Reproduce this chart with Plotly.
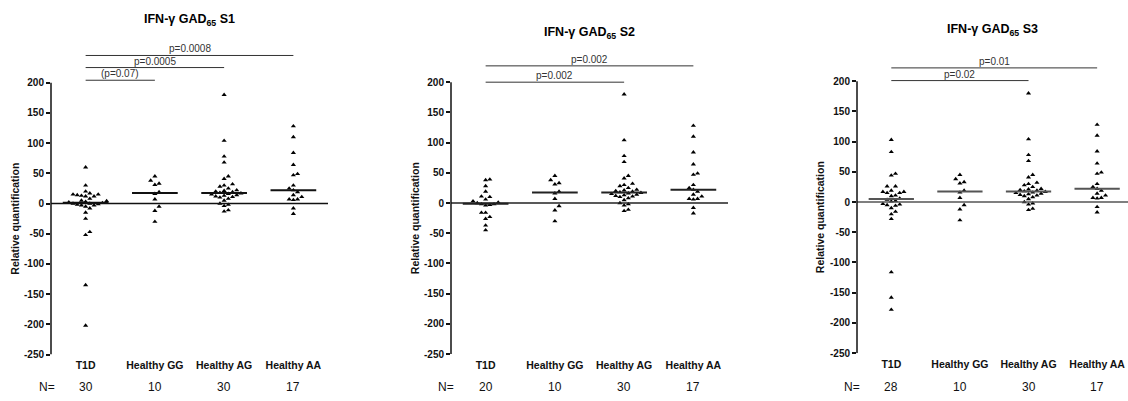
import numpy as np
import plotly.graph_objects as go

W, H = 1128, 401

groups = ["T1D", "Healthy GG", "Healthy AG", "Healthy AA"]
titles = ["IFN-γ GAD<sub>65</sub> S1", "IFN-γ GAD<sub>65</sub> S2", "IFN-γ GAD<sub>65</sub> S3"]

t1d_s1 = [60, 30, 20, 17, 15, 15, 14, 13, 12, 12, 8, 5, 4, 3, 2, 1, 0, 0, -1, -2,
          -3, -3, -5, -8, -15, -25, -47, -52, -135, -202]
t1d_s2 = [39, 38, 28, 19, 11, 10, 6, 3, 1, 0, -2, -2, -3, -4, -16, -16, -23, -26, -37, -45]
t1d_s3 = [103, 83, 47, 44, 26, 26, 19, 17, 17, 15, 15, 11, 10, 6, 4, 2, 1, -3, -4, -5,
          -6, -10, -16, -20, -28, -116, -158, -178]
healthy_gg = [45, 38, 33, 31, 19, 16, 7, -5, -12, -30]
healthy_ag = [180, 104, 78, 68, 45, 41, 32, 30, 28, 25, 22, 21, 20, 19, 18, 17, 16, 15,
              14, 13, 12, 11, 10, 8, 5, 0, -2, -4, -11, -13]
healthy_aa = [128, 110, 84, 64, 49, 47, 30, 25, 22, 19, 14, 11, 7, 7, 6, -8, -17]

# comparisons: (label, target group index)
pvals_s1 = [("(p=0.07)", 1), ("p=0.0005", 2), ("p=0.0008", 3)]
pvals_s2 = [("p=0.002", 2), ("p=0.002", 3)]
pvals_s3 = [("p=0.02", 2), ("p=0.01", 3)]

yticks = [-250, -200, -150, -100, -50, 0, 50, 100, 150, 200]

panels_data = [
    [t1d_s1, healthy_gg, healthy_ag, healthy_aa],
    [t1d_s2, healthy_gg, healthy_ag, healthy_aa],
    [t1d_s3, healthy_gg, healthy_ag, healthy_aa],
]
panels_p = [pvals_s1, pvals_s2, pvals_s3]

# ---------------- layout geometry (pixels) ----------------
geo = [
    dict(x0=51, x1=328, xr=(-0.5, 3.5), ybot=360, title_y=20, bracket_y=[204, 225, 245],
         ytitle_x=15, nx=47, line_col="#111111"),
    dict(x0=451, x1=728, xr=(-0.5, 3.5), ybot=359.5, title_y=33, bracket_y=[200, 227],
         ytitle_x=415, nx=446, line_col="#222222"),
    dict(x0=857, x1=1128, xr=(-0.5, 3.45), ybot=358.5, title_y=30, bracket_y=[201, 222],
         ytitle_x=820, nx=852, line_col="#555555"),
]
YR = (-250, 300)
PXU = 0.6135  # pixels per y unit

FONT = "Liberation Sans, Arial, sans-serif"


def px_x(p):
    return p / W


def px_y(p):
    return 1 - p / H


def swarm(vals, ppx_x, ppx_y, d=4.2, dy=4.8):
    vals = np.asarray(vals, dtype=float)
    order = np.argsort(vals)
    placed = []
    offs = np.zeros(len(vals))
    cands = [0.0]
    for k in range(1, 20):
        cands += [k * d, -k * d]
    for i in order:
        y = vals[i] * ppx_y
        for c in cands:
            ok = True
            for (pxo, pyo) in placed:
                if abs(c - pxo) < d - 0.01 and abs(y - pyo) < dy:
                    ok = False
                    break
            if ok:
                break
        placed.append((c, y))
        offs[i] = c / ppx_x
    return offs


fig = go.Figure()
shapes = []
annotations = []

for pi, (data, g) in enumerate(zip(panels_data, geo)):
    suffix = "" if pi == 0 else str(pi + 1)
    xa = "x" + suffix
    ya = "y" + suffix
    ppx_x = (g["x1"] - g["x0"]) / (g["xr"][1] - g["xr"][0])
    ytop = g["ybot"] - (YR[1] - YR[0]) * PXU

    fig.update_layout(**{
        "xaxis" + suffix: dict(
            domain=[px_x(g["x0"]), px_x(g["x1"])], range=list(g["xr"]),
            tickvals=[0, 1, 2, 3], ticktext=["<b>%s</b>" % s for s in groups],
            ticks="", showline=False, showgrid=False, zeroline=False,
            ticklabelstandoff=3,
            tickfont=dict(family=FONT, size=10.5, color="#111"), anchor=ya,
            fixedrange=True),
        "yaxis" + suffix: dict(
            domain=[px_y(g["ybot"]), px_y(ytop)], range=list(YR),
            tickvals=yticks, ticktext=["<b>%d</b>" % v for v in yticks],
            ticks="outside", ticklen=4, tickwidth=1.5, tickcolor="#111",
            showline=False, showgrid=False, zeroline=False,
            tickfont=dict(family=FONT, size=10, color="#111"), anchor=xa,
            fixedrange=True),
    })

    # data points
    for gi, vals in enumerate(data):
        offs = swarm(vals, ppx_x, PXU)
        fig.add_trace(go.Scatter(
            x=gi + offs, y=vals, mode="markers", xaxis=xa, yaxis=ya,
            marker=dict(symbol="triangle-up", size=4.5, color="#000"),
            showlegend=False, hoverinfo="y"))
        med = float(np.median(vals))
        shapes.append(dict(type="line", xref=xa, yref=ya, x0=gi - 0.33, x1=gi + 0.33,
                           y0=med, y1=med, line=dict(color=g["line_col"], width=2)))

    # zero line
    shapes.append(dict(type="line", xref=xa + " domain", yref=ya, x0=0, x1=1, y0=0, y1=0,
                       line=dict(color=g["line_col"], width=1.5)))
    # y axis line
    shapes.append(dict(type="line", xref=xa + " domain", yref=ya, x0=0, x1=0,
                       y0=YR[0], y1=yticks[-1], line=dict(color="#111", width=1.5)))

    # significance brackets
    for (lab, tgt), by in zip(panels_p[pi], g["bracket_y"]):
        shapes.append(dict(type="line", xref=xa, yref=ya, x0=0, x1=tgt, y0=by, y1=by,
                           line=dict(color="#333", width=1)))
        annotations.append(dict(text=lab, xref=xa, yref=ya, x=tgt / 2, y=by,
                                yanchor="bottom", showarrow=False, yshift=-1,
                                font=dict(family=FONT, size=10, color="#333")))

    # title
    annotations.append(dict(text="<b>%s</b>" % titles[pi], xref="paper", yref="paper",
                            x=px_x((g["x0"] + g["x1"]) / 2), y=px_y(g["title_y"]),
                            xanchor="center", yanchor="middle", showarrow=False,
                            font=dict(family=FONT, size=12.5, color="#000")))
    # y title
    annotations.append(dict(text="<b>Relative quantification</b>", xref="paper", yref="paper",
                            x=px_x(g["ytitle_x"]), y=px_y(g["ybot"] - 138),
                            xanchor="center", yanchor="middle", textangle=-90,
                            showarrow=False,
                            font=dict(family=FONT, size=10.5, color="#111")))
    # N row
    annotations.append(dict(text="N=", xref="paper", yref="paper", x=px_x(g["nx"]),
                            y=px_y(393), xanchor="center", yanchor="middle",
                            showarrow=False, font=dict(family=FONT, size=12, color="#111")))
    for gi, vals in enumerate(data):
        annotations.append(dict(text=str(len(vals)), xref=xa, yref="paper", x=gi,
                                y=px_y(393), xanchor="center", yanchor="middle",
                                showarrow=False,
                                font=dict(family=FONT, size=12, color="#111")))

fig.update_layout(
    width=W, height=H, margin=dict(l=0, r=0, t=0, b=0),
    paper_bgcolor="white", plot_bgcolor="white",
    shapes=shapes, annotations=annotations, showlegend=False,
    font=dict(family=FONT),
)

fig.write_html("out.html")
